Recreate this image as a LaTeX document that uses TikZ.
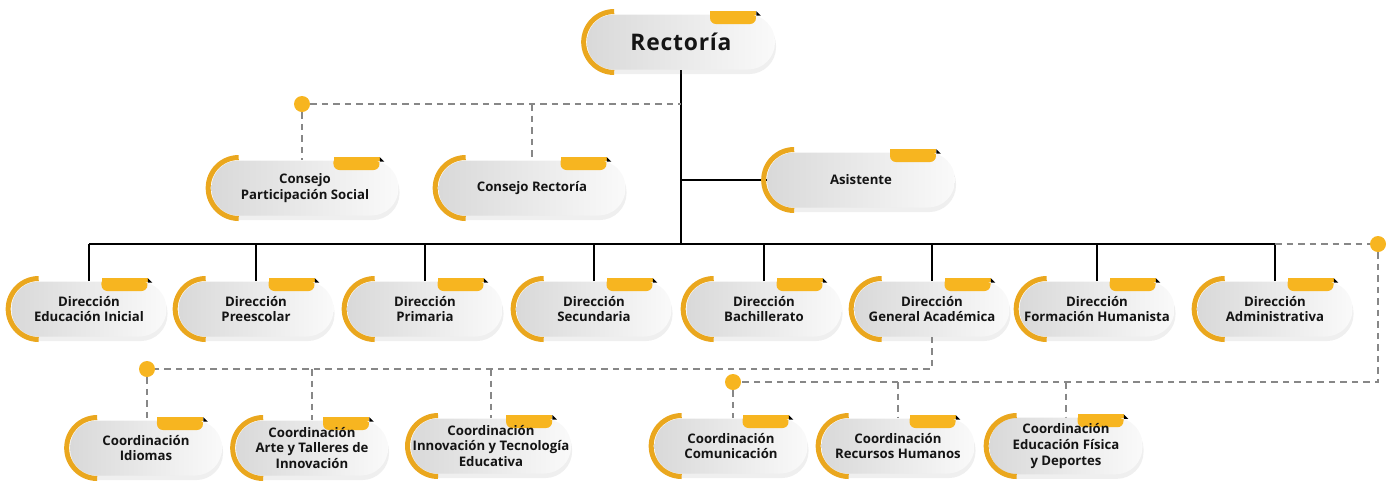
\documentclass[tikz,border=0pt]{standalone}
\usepackage{fontspec}
\setmainfont{Open Sans}
\usepackage{tikz}
\usetikzlibrary{positioning,shadows,calc,backgrounds}
\definecolor{cGold}{RGB}{247,181,32}
\definecolor{cArc}{RGB}{234,167,30}
\definecolor{cDash}{RGB}{135,135,135}
\definecolor{cInk}{RGB}{20,20,20}
\tikzset{
  pill/.style={rectangle, rounded corners=0.54cm, minimum width=3.1cm, minimum height=1.1cm,
    inner xsep=1pt, left color=gray!30, right color=gray!4,
    align=center, text=cInk, font=\bfseries\fontsize{7.5}{9}\selectfont,
    drop shadow={opacity=0.13, shadow xshift=0.6pt, shadow yshift=-2.6pt},
    path picture={
      \fill[cGold, rounded corners=0.12cm]
        ($(path picture bounding box.north east)+(-1.3cm,0.1cm)$) rectangle
        ($(path picture bounding box.north east)+(-0.38cm,-0.19cm)$);
    }},
  link/.style={line width=1.1pt, black},
  dline/.style={line width=0.8pt, cDash, dash pattern=on 0.13cm off 0.1cm},
  dot/.style={circle, fill=cGold, minimum size=0.32cm, inner sep=0pt},
}
% orange arc on the left, top of the tab and its corner
\newcommand{\deco}[1]{%
  \draw[cArc, line width=0.1cm] ([xshift=0.55cm]#1.west) ++(0cm,0.61cm) arc (90:270:0.61cm);
  \fill[cGold] ($(#1.north -| #1.east)+(-1.3cm,0.06cm)$) rectangle ($(#1.north -| #1.east)+(-0.38cm,-0.01cm)$);
  \fill[black] ($(#1.north -| #1.east)+(-0.38cm,0.06cm)$) -- ++(0.09cm,-0.09cm) -- ++(-0.09cm,0cm) -- cycle;
}

\begin{document}
\begin{tikzpicture}[x=0.02cm, y=-0.02cm]
  \useasboundingbox (0,0) rectangle (1389,485);
  % top
  \node[pill, minimum width=3.76cm, font=\bfseries\fontsize{13}{15}\selectfont\addfontfeatures{LetterSpace=3.5}] (rect) at (681,42) {Rectoría};
  \node[pill, minimum width=3.74cm] (cPS) at (305,188) {Consejo\\Participación Social};
  \node[pill, minimum width=3.74cm] (cRec) at (532,188) {Consejo Rectoría};
  \node[pill, minimum width=3.76cm] (asis) at (861,180) {Asistente};
  % direcciones
  \node[pill] (dIni) at (89,309) {Dirección\\Educación Inicial};
  \node[pill] (dPre) at (256,309) {Dirección\\Preescolar};
  \node[pill] (dPri) at (425,309) {Dirección\\Primaria};
  \node[pill] (dSec) at (594,309) {Dirección\\Secundaria};
  \node[pill] (dBach) at (764,309) {Dirección\\Bachillerato};
  \node[pill] (dGA) at (932,309) {Dirección\\General Académica};
  \node[pill] (dFH) at (1097,309) {Dirección\\Formación Humanista};
  \node[pill] (dAdm) at (1275,309) {Dirección\\Administrativa};
  % coordinaciones
  \node[pill, minimum width=3.04cm] (kIdi) at (146,448) {Coordinación\\Idiomas};
  \node[pill, minimum width=3.04cm] (kArte) at (312,448) {Coordinación\\Arte y Talleres de\\Innovación};
  \node[pill, minimum width=3.2cm] (kInn) at (491,446) {Coordinación\\Innovación y Tecnología\\Educativa};
  \node[pill, minimum width=3.06cm] (kCom) at (731,446) {Coordinación\\Comunicación};
  \node[pill, minimum width=3.06cm] (kRH) at (898,446) {Coordinación\\Recursos Humanos};
  \node[pill, minimum width=3.06cm] (kEF) at (1066,446) {Coordinación\\Educación Física\\y Deportes};
  \foreach \n in {rect,cPS,cRec,asis,dIni,dPre,dPri,dSec,dBach,dGA,dFH,dAdm,kIdi,kArte,kInn,kCom,kRH,kEF}
    {\deco{\n}}
  % dots
  \node[dot] (dotC) at (302,104) {};
  \node[dot] (dotR) at (1378,244) {};
  \node[dot] (dotK) at (733,382) {};
  \node[dot] (dotL) at (147,369) {};
  \begin{scope}[on background layer]
    % solid links
    \coordinate (busY) at (0,244);
    \draw[link] (rect.south) -- (rect.south |- busY);
    \draw[link] (rect.south |- asis) -- (asis.west);
    \draw[link] (dIni.north |- busY) -- (dAdm.north |- busY);
    \foreach \n in {dIni,dPre,dPri,dSec,dBach,dGA,dFH,dAdm}
      {\draw[link] (\n.north) -- (\n.north |- busY);}
    % dashed links
    \draw[dline] (dotC) -- (rect.south |- dotC);
    \draw[dline] (dotC) -- (dotC |- cPS.north);
    \draw[dline] (cRec.north |- dotC) -- (cRec.north);
    \draw[dline] (dAdm.north |- busY) -- (dotR);
    \draw[dline] (dotR) |- (dotK);
    \draw[dline] (dotK) -- (dotK |- kCom.north);
    \draw[dline] (kRH.north |- dotK) -- (kRH.north);
    \draw[dline] (kEF.north |- dotK) -- (kEF.north);
    \draw[dline] (dGA.south) |- (dotL);
    \draw[dline] (dotL) -- (dotL |- kIdi.north);
    \draw[dline] (kArte.north |- dotL) -- (kArte.north);
    \draw[dline] (kInn.north |- dotL) -- (kInn.north);
  \end{scope}
\end{tikzpicture}
\end{document}
